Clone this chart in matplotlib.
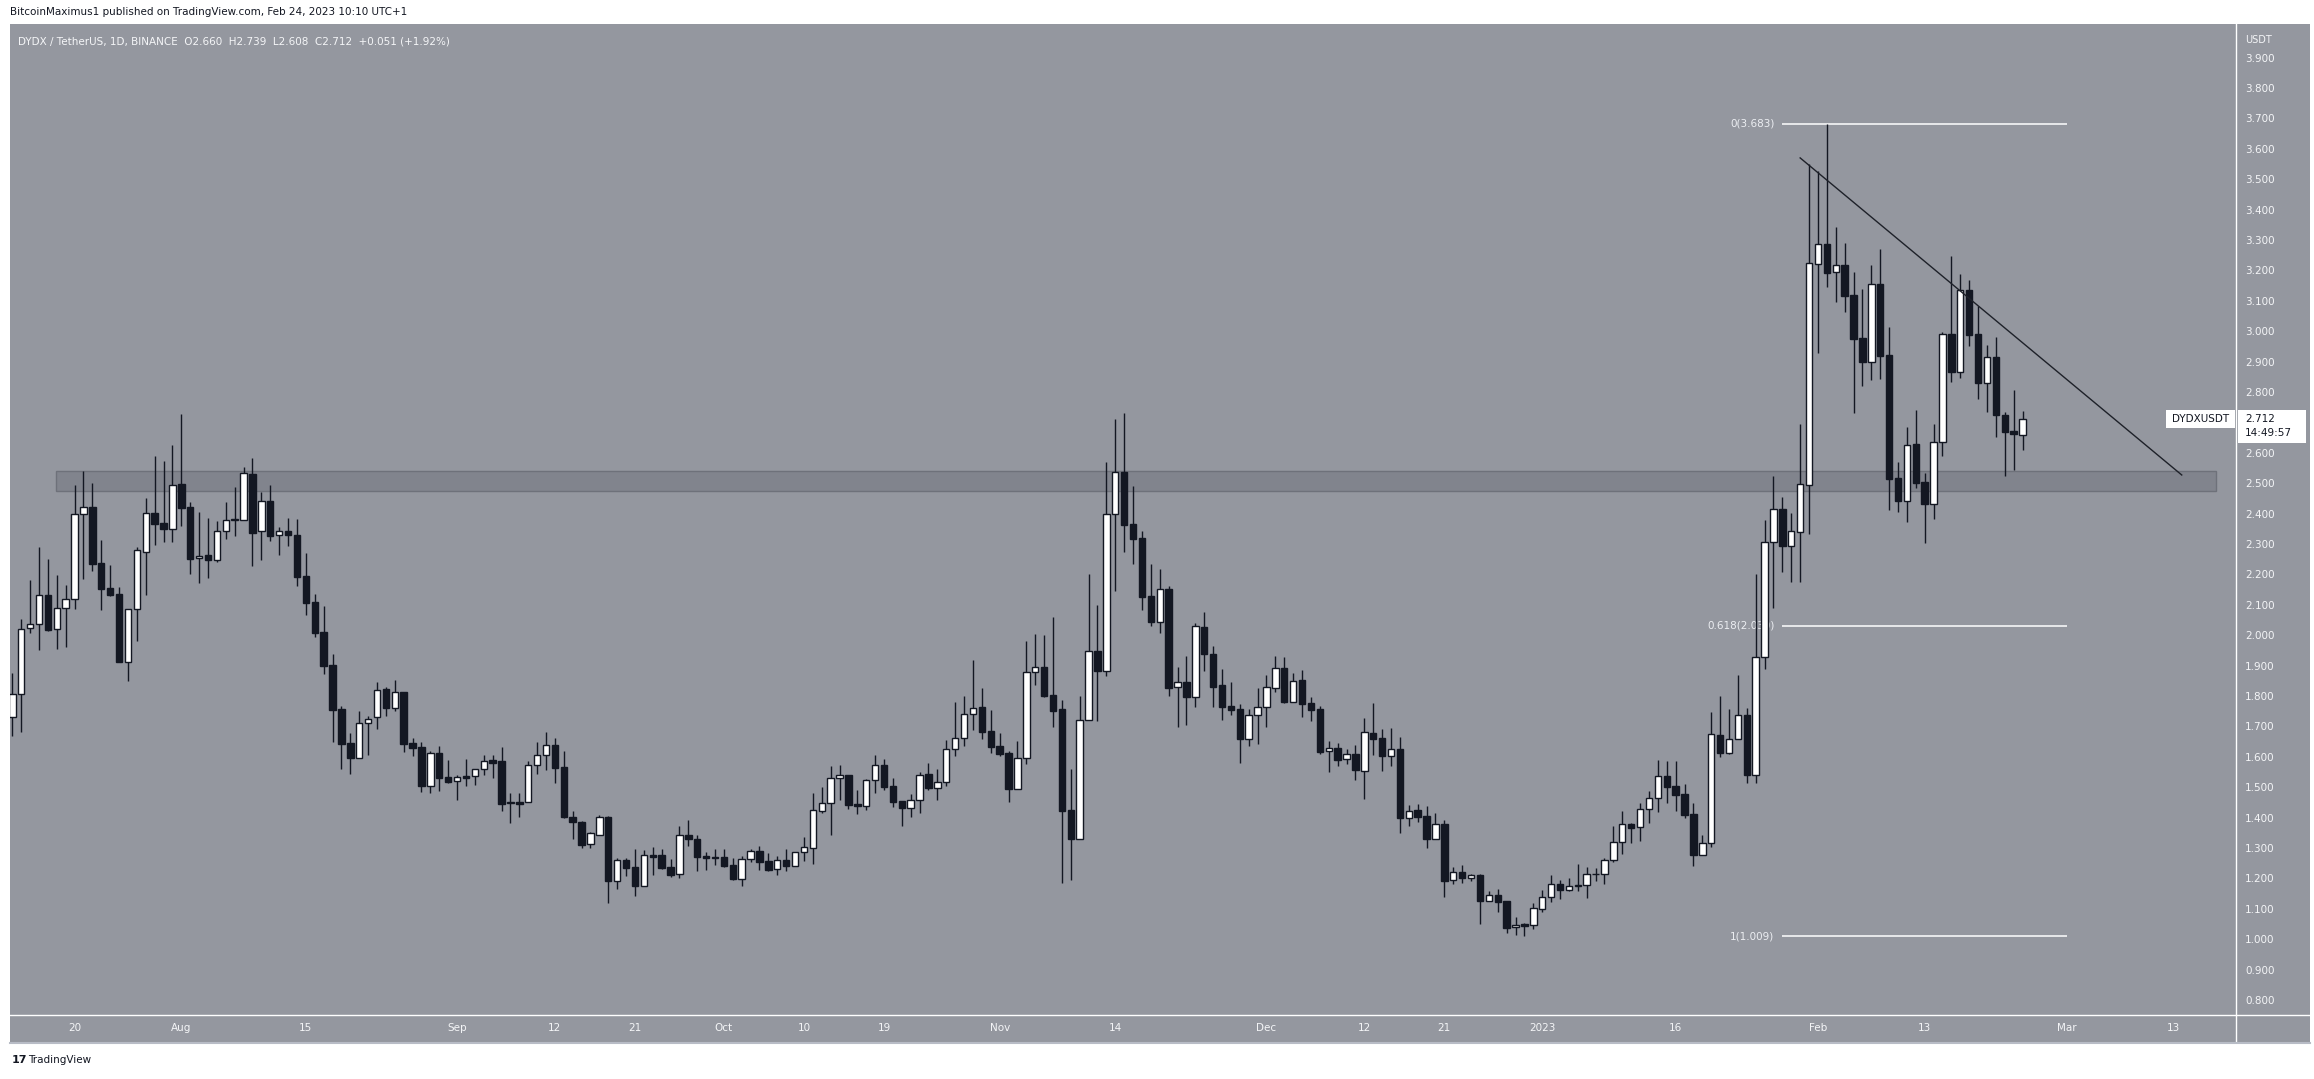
import matplotlib
matplotlib.use('Agg')
import matplotlib.pyplot as plt
from matplotlib.patches import Rectangle
from matplotlib.lines import Line2D
import matplotlib.transforms as mtransforms
import numpy as np
import pandas as pd

# ---------------- data ----------------
start_date = '2022-07-13'   # first daily candle
opens = [1.732, 1.806, 2.023, 2.036, 2.131, 2.019, 2.088, 2.118, 2.398, 2.421,
         2.236, 2.154, 2.134, 1.913, 2.085, 2.275, 2.402, 2.368, 2.350, 2.497,
         2.422, 2.253, 2.264, 2.246, 2.342, 2.378, 2.378, 2.530, 2.342, 2.441,
         2.329, 2.343, 2.330, 2.195, 2.108, 2.010, 1.902, 1.757, 1.645, 1.595,
         1.710, 1.730, 1.823, 1.762, 1.813, 1.645, 1.632, 1.505, 1.612, 1.534,
         1.519, 1.536, 1.536, 1.559, 1.588, 1.586, 1.447, 1.451, 1.450, 1.572,
         1.605, 1.638, 1.565, 1.401, 1.386, 1.314, 1.344, 1.402, 1.193, 1.261,
         1.237, 1.176, 1.277, 1.277, 1.237, 1.213, 1.343, 1.330, 1.274, 1.270,
         1.269, 1.244, 1.199, 1.263, 1.289, 1.256, 1.230, 1.259, 1.242, 1.286,
         1.301, 1.423, 1.447, 1.529, 1.539, 1.445, 1.439, 1.523, 1.572, 1.504,
         1.453, 1.433, 1.459, 1.542, 1.499, 1.518, 1.625, 1.661, 1.742, 1.763,
         1.684, 1.635, 1.612, 1.495, 1.595, 1.880, 1.895, 1.803, 1.757, 1.425,
         1.328, 1.720, 1.947, 1.883, 2.398, 2.536, 2.366, 2.320, 2.129, 2.045,
         2.152, 1.828, 1.846, 1.798, 2.027, 1.938, 1.836, 1.767, 1.757, 1.657,
         1.737, 1.763, 1.827, 1.892, 1.781, 1.852, 1.777, 1.757, 1.618, 1.629,
         1.592, 1.609, 1.554, 1.677, 1.662, 1.604, 1.626, 1.398, 1.424, 1.405,
         1.331, 1.379, 1.194, 1.220, 1.202, 1.211, 1.127, 1.145, 1.126, 1.039,
         1.049, 1.048, 1.101, 1.138, 1.180, 1.161, 1.176, 1.177, 1.213, 1.213,
         1.260, 1.319, 1.378, 1.368, 1.429, 1.466, 1.536, 1.503, 1.478, 1.412,
         1.278, 1.315, 1.671, 1.614, 1.657, 1.736, 1.539, 1.927, 2.306, 2.414,
         2.295, 2.338, 2.494, 3.221, 3.287, 3.194, 3.218, 3.119, 2.977, 2.900,
         3.155, 2.921, 2.517, 2.443, 2.629, 2.504, 2.430, 2.636, 2.990, 2.865,
         3.135, 2.991, 2.828, 2.914, 2.724, 2.671, 2.660]
highs = [1.875, 2.053, 2.182, 2.290, 2.251, 2.198, 2.165, 2.494, 2.540, 2.501,
         2.313, 2.230, 2.159, 2.085, 2.290, 2.451, 2.589, 2.573, 2.626, 2.728,
         2.438, 2.405, 2.386, 2.376, 2.438, 2.488, 2.552, 2.583, 2.471, 2.494,
         2.355, 2.386, 2.382, 2.270, 2.136, 2.096, 1.938, 1.766, 1.678, 1.751,
         1.734, 1.846, 1.830, 1.853, 1.813, 1.662, 1.649, 1.619, 1.636, 1.590,
         1.540, 1.593, 1.559, 1.606, 1.606, 1.632, 1.481, 1.481, 1.586, 1.649,
         1.682, 1.661, 1.618, 1.422, 1.389, 1.353, 1.407, 1.404, 1.266, 1.266,
         1.297, 1.294, 1.303, 1.297, 1.264, 1.372, 1.392, 1.342, 1.287, 1.297,
         1.297, 1.267, 1.273, 1.297, 1.307, 1.284, 1.274, 1.297, 1.286, 1.335,
         1.481, 1.501, 1.570, 1.573, 1.539, 1.491, 1.527, 1.606, 1.593, 1.530,
         1.453, 1.478, 1.549, 1.580, 1.560, 1.655, 1.780, 1.800, 1.918, 1.826,
         1.754, 1.678, 1.618, 1.652, 1.981, 2.004, 2.001, 2.060, 1.787, 1.560,
         1.800, 2.201, 2.099, 2.570, 2.711, 2.731, 2.491, 2.343, 2.234, 2.218,
         2.162, 1.895, 1.932, 2.040, 2.076, 1.964, 1.889, 1.846, 1.774, 1.757,
         1.826, 1.869, 1.932, 1.928, 1.876, 1.886, 1.797, 1.767, 1.652, 1.645,
         1.626, 1.639, 1.728, 1.777, 1.691, 1.695, 1.665, 1.441, 1.445, 1.438,
         1.415, 1.392, 1.236, 1.244, 1.213, 1.214, 1.158, 1.165, 1.126, 1.073,
         1.053, 1.119, 1.162, 1.211, 1.194, 1.201, 1.247, 1.237, 1.234, 1.267,
         1.372, 1.422, 1.382, 1.449, 1.486, 1.589, 1.586, 1.586, 1.510, 1.448,
         1.342, 1.747, 1.800, 1.757, 1.869, 1.760, 2.201, 2.379, 2.524, 2.456,
         2.402, 2.696, 3.550, 3.527, 3.683, 3.343, 3.290, 3.194, 3.139, 3.218,
         3.270, 3.014, 2.570, 2.685, 2.741, 2.533, 2.695, 2.996, 3.248, 3.188,
         3.167, 3.084, 2.955, 2.981, 2.733, 2.805, 2.739]
lows = [1.670, 1.683, 2.008, 1.951, 2.015, 1.956, 1.962, 2.087, 2.185, 2.212,
        2.083, 2.129, 1.913, 1.850, 1.982, 2.132, 2.298, 2.307, 2.307, 2.360,
        2.202, 2.173, 2.189, 2.242, 2.317, 2.327, 2.378, 2.229, 2.248, 2.311,
        2.265, 2.293, 2.163, 2.068, 1.995, 1.873, 1.650, 1.561, 1.545, 1.595,
        1.607, 1.692, 1.734, 1.752, 1.616, 1.604, 1.485, 1.482, 1.489, 1.515,
        1.459, 1.505, 1.508, 1.541, 1.531, 1.423, 1.383, 1.403, 1.450, 1.545,
        1.558, 1.515, 1.400, 1.331, 1.301, 1.301, 1.344, 1.120, 1.165, 1.208,
        1.143, 1.176, 1.211, 1.231, 1.205, 1.201, 1.306, 1.224, 1.228, 1.244,
        1.237, 1.195, 1.176, 1.253, 1.228, 1.224, 1.211, 1.224, 1.242, 1.258,
        1.247, 1.416, 1.343, 1.458, 1.428, 1.412, 1.425, 1.481, 1.491, 1.436,
        1.374, 1.403, 1.416, 1.491, 1.458, 1.504, 1.604, 1.637, 1.689, 1.659,
        1.614, 1.604, 1.452, 1.495, 1.577, 1.836, 1.798, 1.699, 1.184, 1.194,
        1.328, 1.720, 1.719, 1.867, 2.147, 2.275, 2.235, 2.083, 2.030, 2.008,
        1.801, 1.699, 1.705, 1.765, 1.883, 1.765, 1.721, 1.739, 1.581, 1.637,
        1.643, 1.699, 1.814, 1.778, 1.781, 1.731, 1.719, 1.609, 1.551, 1.571,
        1.577, 1.525, 1.462, 1.607, 1.554, 1.571, 1.350, 1.373, 1.387, 1.301,
        1.331, 1.140, 1.183, 1.186, 1.192, 1.051, 1.127, 1.091, 1.021, 1.015,
        1.009, 1.034, 1.088, 1.124, 1.133, 1.158, 1.160, 1.137, 1.193, 1.183,
        1.253, 1.279, 1.315, 1.324, 1.381, 1.419, 1.449, 1.423, 1.400, 1.242,
        1.278, 1.302, 1.600, 1.608, 1.657, 1.515, 1.515, 1.888, 2.091, 2.209,
        2.176, 2.174, 2.332, 2.927, 3.146, 3.095, 3.064, 2.732, 2.821, 2.841,
        2.842, 2.413, 2.406, 2.373, 2.485, 2.304, 2.383, 2.589, 2.834, 2.847,
        2.951, 2.778, 2.735, 2.653, 2.525, 2.545, 2.608]
closes = [1.806, 2.019, 2.036, 2.131, 2.017, 2.088, 2.118, 2.398, 2.421, 2.235,
          2.153, 2.133, 1.913, 2.085, 2.279, 2.401, 2.367, 2.350, 2.493, 2.420,
          2.252, 2.262, 2.246, 2.342, 2.378, 2.380, 2.532, 2.337, 2.440, 2.327,
          2.342, 2.328, 2.193, 2.107, 2.008, 1.900, 1.755, 1.643, 1.597, 1.710,
          1.726, 1.820, 1.762, 1.812, 1.643, 1.630, 1.505, 1.612, 1.531, 1.518,
          1.532, 1.531, 1.559, 1.585, 1.581, 1.446, 1.448, 1.446, 1.573, 1.605,
          1.638, 1.564, 1.403, 1.387, 1.311, 1.348, 1.401, 1.193, 1.259, 1.235,
          1.176, 1.276, 1.272, 1.234, 1.211, 1.342, 1.329, 1.272, 1.268, 1.268,
          1.241, 1.199, 1.263, 1.289, 1.255, 1.229, 1.259, 1.242, 1.286, 1.302,
          1.424, 1.447, 1.529, 1.539, 1.443, 1.439, 1.523, 1.572, 1.502, 1.452,
          1.433, 1.457, 1.539, 1.499, 1.516, 1.625, 1.661, 1.740, 1.759, 1.683,
          1.633, 1.610, 1.495, 1.595, 1.878, 1.894, 1.801, 1.752, 1.423, 1.328,
          1.720, 1.947, 1.883, 2.398, 2.536, 2.364, 2.318, 2.127, 2.045, 2.151,
          1.827, 1.845, 1.798, 2.029, 1.938, 1.831, 1.765, 1.755, 1.659, 1.737,
          1.763, 1.828, 1.892, 1.780, 1.848, 1.775, 1.755, 1.617, 1.628, 1.591,
          1.608, 1.558, 1.680, 1.660, 1.604, 1.625, 1.400, 1.421, 1.403, 1.331,
          1.379, 1.193, 1.220, 1.202, 1.210, 1.127, 1.145, 1.123, 1.038, 1.046,
          1.044, 1.103, 1.138, 1.180, 1.161, 1.176, 1.178, 1.213, 1.215, 1.261,
          1.319, 1.378, 1.367, 1.427, 1.466, 1.536, 1.502, 1.475, 1.410, 1.278,
          1.315, 1.674, 1.614, 1.657, 1.736, 1.539, 1.927, 2.306, 2.414, 2.295,
          2.342, 2.497, 3.223, 3.287, 3.193, 3.218, 3.117, 2.975, 2.900, 3.155,
          2.920, 2.515, 2.443, 2.625, 2.502, 2.430, 2.636, 2.990, 2.867, 3.135,
          2.989, 2.828, 2.914, 2.724, 2.670, 2.661, 2.712]

tick_dates = ['2022-07-20', '2022-08-01', '2022-08-15', '2022-09-01', '2022-09-12',
              '2022-09-21', '2022-10-01', '2022-10-10', '2022-10-19', '2022-11-01',
              '2022-11-14', '2022-12-01', '2022-12-12', '2022-12-21', '2023-01-01',
              '2023-01-16', '2023-02-01', '2023-02-13', '2023-03-01', '2023-03-13']
tick_labels = ['20', 'Aug', '15', 'Sep', '12', '21', 'Oct', '10', '19', 'Nov',
               '14', 'Dec', '12', '21', '2023', '16', 'Feb', '13', 'Mar', '13']
price_ticks = [0.8, 0.9, 1.0, 1.1, 1.2, 1.3, 1.4, 1.5, 1.6, 1.7, 1.8, 1.9, 2.0,
               2.1, 2.2, 2.3, 2.4, 2.5, 2.6, 2.8, 2.9, 3.0, 3.1, 3.2, 3.3,
               3.4, 3.5, 3.6, 3.7, 3.8, 3.9]   # 2.700 is hidden by the price box

zone_low, zone_high = 2.474, 2.540
zone_x = [4.9, 247.7]                 # bar positions
fib_high, fib_low = 3.683, 1.009
fib_levels = [0, 0.618, 1]
fib_x = [199, 231]                    # bar positions
trend_x = [201.0, 243.9]
trend_y = [3.570, 2.527]
last_price = 2.712
countdown = '14:49:57'

header = 'BitcoinMaximus1 published on TradingView.com, Feb 24, 2023 10:10 UTC+1'
legend = 'DYDX / TetherUS, 1D, BINANCE  O2.660  H2.739  L2.608  C2.712  +0.051 (+1.92%)'

# ---------------- styling ----------------
W, H = 2314, 1079
BG = '#94979f'
DARK = '#131722'
TXT = '#f4f5f7'
FS = 7.5
plt.rcParams['font.family'] = ['DejaVu Sans']

fig = plt.figure(figsize=(W / 100, H / 100), dpi=100, facecolor='white')

def fx(px):
    return px / W

def fy(py):
    return 1 - py / H

# chart panel (behind the axes)
fig.patches.append(Rectangle((fx(10), fy(1043)), fx(2310) - fx(10), fy(23.6) - fy(1043),
                             transform=fig.transFigure, facecolor=BG, edgecolor='none',
                             zorder=-5))

ax = fig.add_axes([fx(10), fy(1015), fx(2236) - fx(10), fy(23.6) - fy(1015)])
ax.set_zorder(1)
ax.set_facecolor(BG)

start = pd.Timestamp(start_date)
n = len(opens)
x = np.arange(n)
o = np.array(opens); c = np.array(closes); hi = np.array(highs); lo = np.array(lows)
up = c >= o

# candles
ax.vlines(x, lo, hi, color=DARK, lw=1.0, zorder=3)
body_lo = np.minimum(o, c)
body_h = np.maximum(np.abs(c - o), 0.003)
ax.bar(x[up], body_h[up], bottom=body_lo[up], width=0.72, color='white',
       edgecolor=DARK, linewidth=1.0, zorder=4)
ax.bar(x[~up], body_h[~up], bottom=body_lo[~up], width=0.72, color=DARK,
       edgecolor=DARK, linewidth=1.0, zorder=4)

# support zone
ax.add_patch(Rectangle((zone_x[0], zone_low), zone_x[1] - zone_x[0], zone_high - zone_low,
                       facecolor='#81848d', edgecolor='#6e717a', lw=1.0, zorder=1))

# fib levels
for lvl in fib_levels:
    p = fib_high - lvl * (fib_high - fib_low)
    ax.hlines(p, fib_x[0], fib_x[1], color='white', lw=1.1, zorder=2)
    ax.text(fib_x[0] - 0.9, p, f'{lvl:g}({p:.3f})', ha='right', va='center',
            color='#eceef2', fontsize=FS, zorder=2)

# descending trend line
ax.plot(trend_x, trend_y, color='#1e2129', lw=1.0, zorder=5)

ax.set_xlim(-0.26, 250.0)
ax.set_ylim(0.7507, 4.0118)

tick_pos = [(pd.Timestamp(d) - start).days for d in tick_dates]
ax.set_xticks(tick_pos)
ax.set_xticklabels(tick_labels)
ax.set_yticks(price_ticks)
ax.set_yticklabels([f'{p:.3f}' for p in price_ticks])
ax.yaxis.tick_right()
ax.tick_params(axis='x', length=0, pad=6, labelsize=FS, labelcolor=TXT)
ax.tick_params(axis='y', length=0, pad=6.5, labelsize=FS, labelcolor=TXT)
for s in ['top', 'left', 'right', 'bottom']:
    ax.spines[s].set_visible(False)

# separators
fig.add_artist(Line2D([fx(10), fx(2310)], [fy(1015), fy(1015)], color='white', lw=1.0,
                      transform=fig.transFigure, zorder=5))
fig.add_artist(Line2D([fx(2236), fx(2236)], [fy(23.6), fy(1043)], color='white', lw=1.0,
                      transform=fig.transFigure, zorder=5))
fig.add_artist(Line2D([fx(10), fx(2310)], [fy(1043), fy(1043)], color='#b8bcc6', lw=1.5,
                      transform=fig.transFigure, zorder=5))

# last price boxes
ppu = (1015 - 23.6) / (4.0118 - 0.7507)
blend = mtransforms.blended_transform_factory(fig.transFigure, ax.transData)
ax.add_patch(Rectangle((fx(2166), last_price - 9 / ppu), fx(2235) - fx(2166), 18 / ppu,
                       transform=blend, facecolor='white', edgecolor='none',
                       clip_on=False, zorder=10))
ax.text(fx(2201), last_price, 'DYDXUSDT', transform=blend, ha='center', va='center',
        color=DARK, fontsize=FS, clip_on=False, zorder=11)
ax.add_patch(Rectangle((fx(2238), last_price - 24 / ppu), fx(2306) - fx(2238), 33 / ppu,
                       transform=blend, facecolor='white', edgecolor='none',
                       clip_on=False, zorder=10))
ax.text(fx(2245), last_price, f'{last_price:.3f}', transform=blend, ha='left', va='center',
        color=DARK, fontsize=FS, clip_on=False, zorder=11)
ax.text(fx(2245), last_price - 14 / ppu, countdown, transform=blend, ha='left', va='center',
        color=DARK, fontsize=FS, clip_on=False, zorder=11)

# texts
fig.text(fx(2245), fy(40), 'USDT', ha='left', va='center', color=TXT, fontsize=7)
fig.text(fx(10), fy(12), header, ha='left', va='center', color=DARK, fontsize=FS)
fig.text(fx(18), fy(41), legend, ha='left', va='center', color=TXT, fontsize=FS)
fig.text(fx(12), fy(1060), '17', ha='left', va='center', color=DARK, fontsize=8,
         fontweight='bold')
fig.text(fx(28), fy(1060), 'TradingView', ha='left', va='center', color=DARK, fontsize=7.5)

fig.savefig('out.png', dpi=100, facecolor='white')
